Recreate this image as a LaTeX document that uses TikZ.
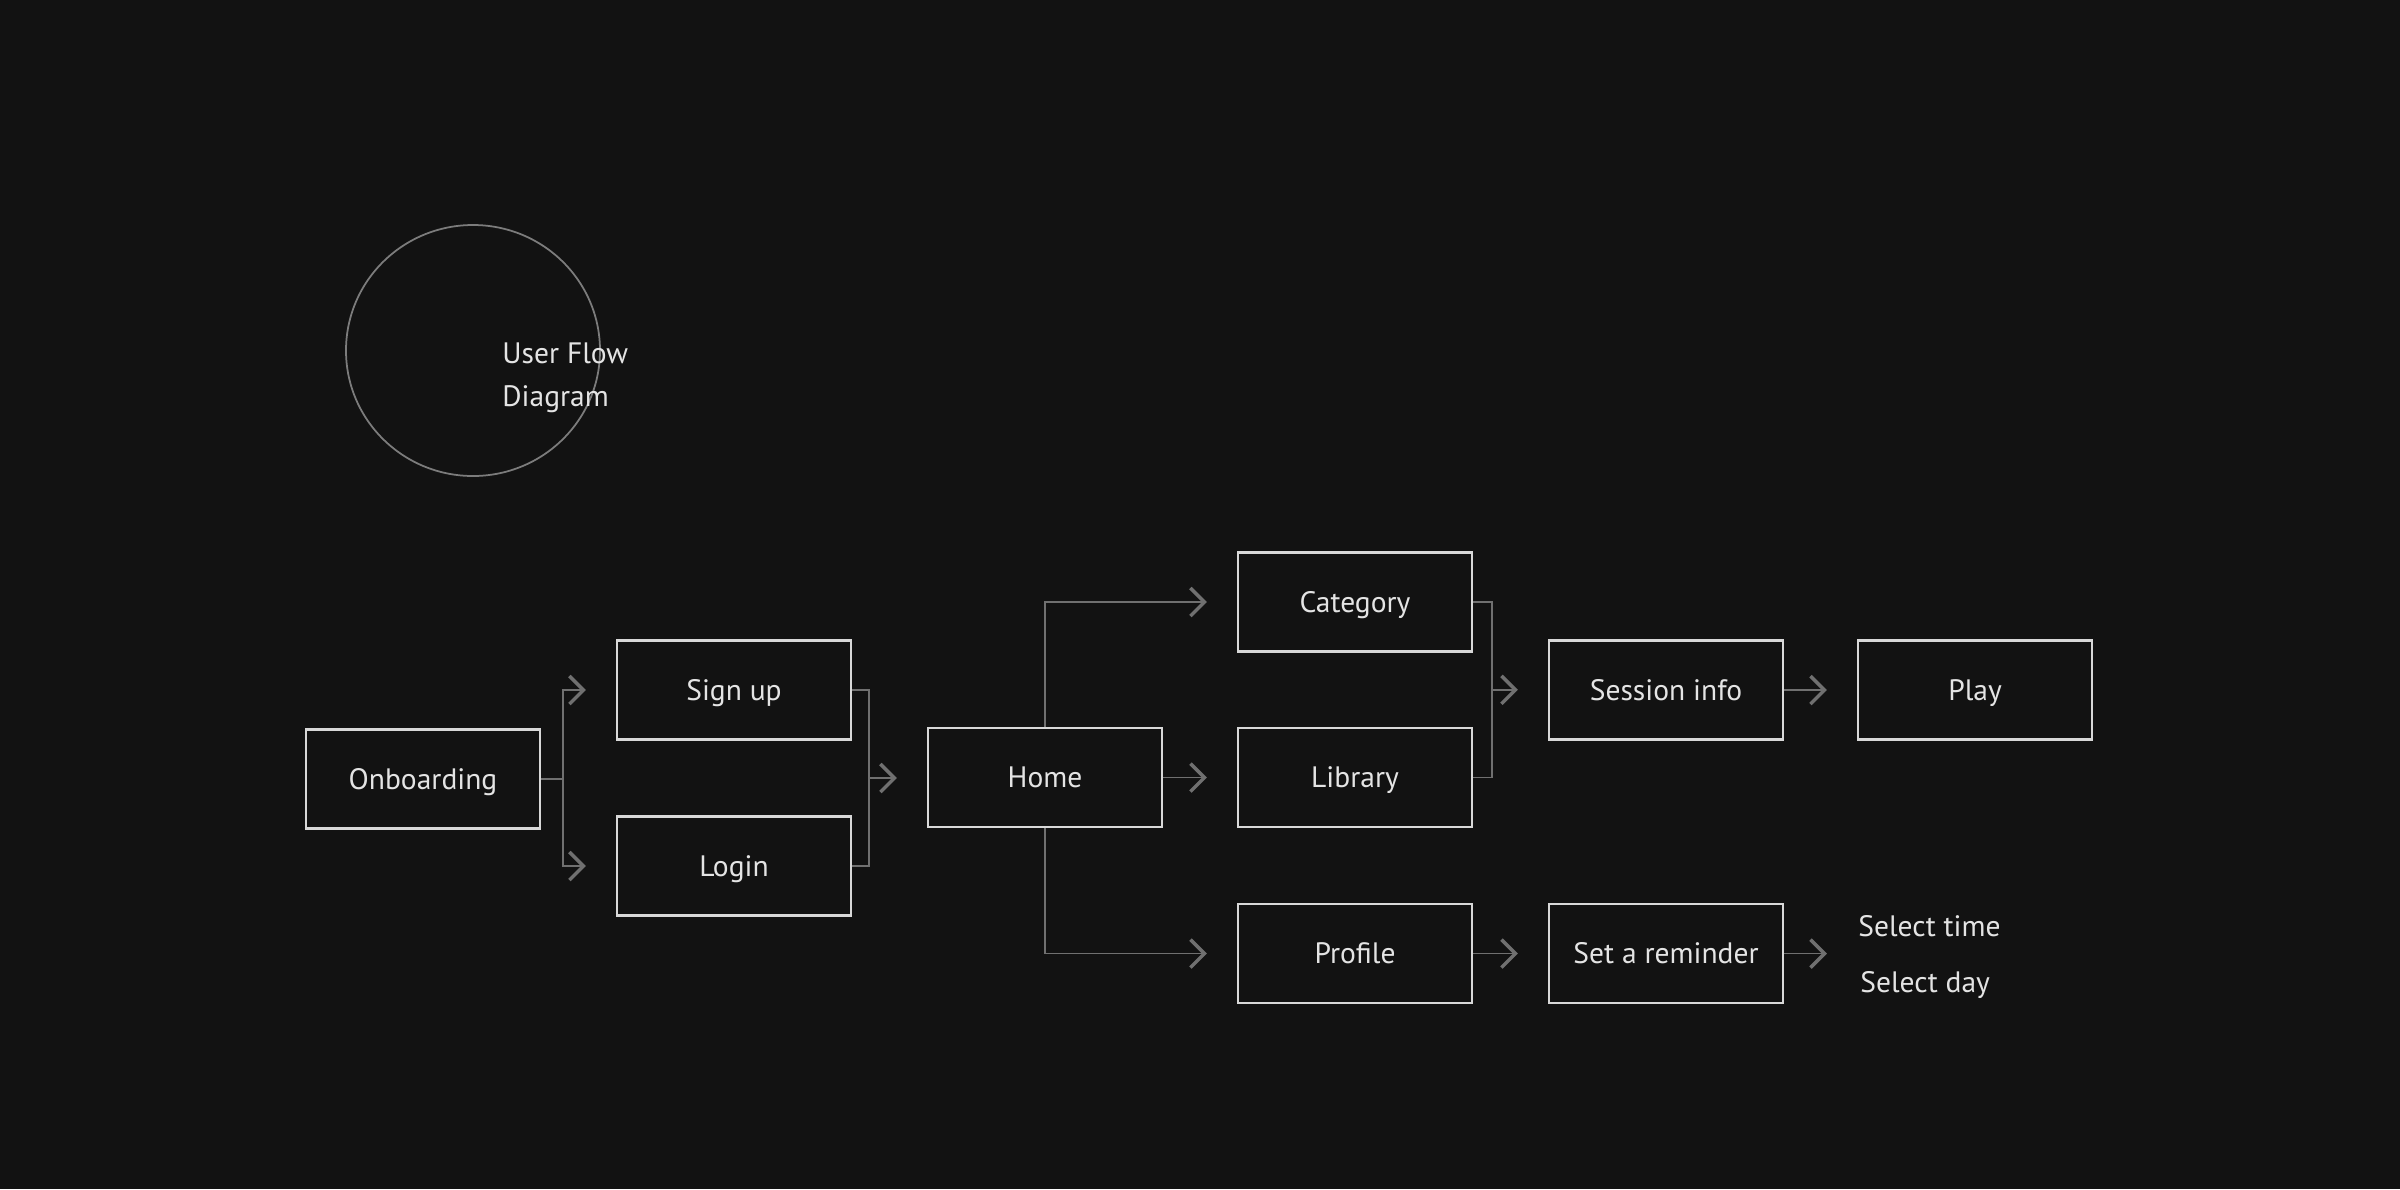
\documentclass[tikz,border=0pt]{standalone}
\usepackage{fontspec}
\setmainfont{PT Sans}
\usetikzlibrary{arrows.meta,calc}
\definecolor{bg}{HTML}{121212}
\definecolor{edgewhite}{HTML}{D8D8D8}
\definecolor{linkgray}{HTML}{707070}
\definecolor{txtwhite}{HTML}{E4E4E4}
\definecolor{blobgray}{HTML}{7C7C7C}

\begin{document}
\begin{tikzpicture}[every node/.style={font=\fontsize{8.4}{12.2}\selectfont,text=txtwhite},
    box/.style={draw=edgewhite,line width=0.6pt,minimum width=2.34cm,minimum height=0.99cm,inner sep=0,text height=0.57em,text depth=0pt},
    linkline/.style={draw=linkgray,line width=0.5pt},
    link/.style={linkline,-{Straight Barb[length=1.4mm,width=2.8mm,line width=1pt]},shorten >=3mm}]
        \fill[bg] (0,0) rectangle (24,-11.89);
        \useasboundingbox (0,0) rectangle (24,-11.89);
        % title blob
        \draw[blobgray,line width=0.5pt] (4.73,-3.505) ellipse [x radius=1.27,y radius=1.255];
        \node[anchor=west,align=left] (title) at (4.90,-3.78) {User Flow\\Diagram};
        % screens
        \node[box] (onb) at (4.23,-7.79) {Onboarding};
        \node[box] (signup) at (7.34,-6.90) {Sign up};
        \node[box] (login) at (7.34,-8.66) {Login};
        \node[box] (home) at (10.45,-7.775) {Home};
        \node[box] (cat) at (13.55,-6.02) {Category};
        \node[box] (lib) at (13.55,-7.775) {Library};
        \node[box] (prof) at (13.55,-9.535) {Profile};
        \node[box] (sess) at (16.66,-6.90) {Session info};
        \node[box] (play) at (19.75,-6.90) {Play};
        \node[box] (remind) at (16.66,-9.535) {Set a reminder};
        \node[anchor=west] (seltime) at (18.46,-9.26) {Select time};
        \node[anchor=west] (selday) at (18.48,-9.85) {Select day};
        % connectors
        \draw[link] (onb.east) -- ++(0.22,0) |- (signup.west);
        \draw[link] (onb.east) -- ++(0.22,0) |- (login.west);
        \draw[linkline] (signup.east) -- ++(0.17,0) |- (login.east);
        \coordinate (j1) at ($(signup.east)!.5!(login.east)+(0.17,0)$);
        \draw[link] (j1) -- (j1 -| home.west);
        \draw[link] (home.north) |- (cat.west);
        \draw[link] (home.east) -- (lib.west);
        \draw[link] (home.south) |- (prof.west);
        \draw[linkline] (cat.east) -- ++(0.19,0) |- (lib.east);
        \coordinate (j2) at ($(cat.east)!.5!(lib.east)+(0.19,0)$);
        \draw[link] (j2) -- (j2 -| sess.west);
        \draw[link] (sess.east) -- (play.west);
        \draw[link] (prof.east) -- (remind.west);
        \draw[link] (remind.east) -- (remind.east -| play.west);
      \end{tikzpicture}
\end{document}
